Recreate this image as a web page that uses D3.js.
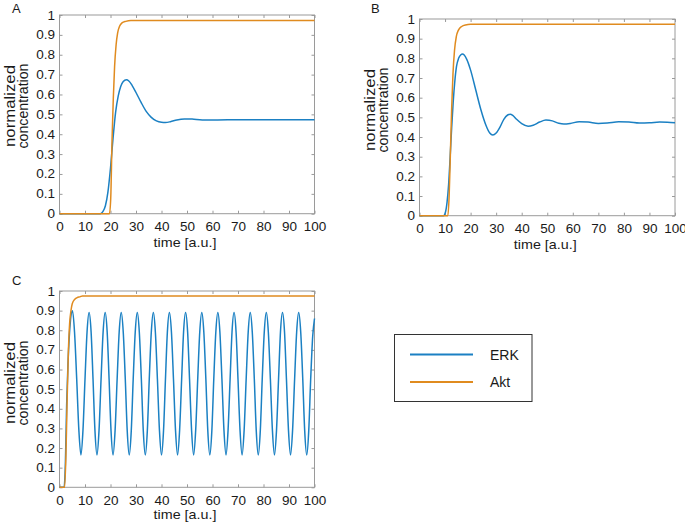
<!DOCTYPE html>
<html><head><meta charset="utf-8">
<script src="https://cdn.jsdelivr.net/npm/d3@7"></script>
<style>
body{margin:0;background:#fff}
svg{display:block}
text{font-family:"Liberation Sans",Arial,Helvetica,sans-serif;fill:#1a1a1a}
</style>
</head><body><svg id="c" width="685" height="526"></svg>
<script>
// ---------- data ----------
const xTicks = [0,10,20,30,40,50,60,70,80,90,100];
const yTicks = [0,0.1,0.2,0.3,0.4,0.5,0.6,0.7,0.8,0.9,1];
const yTickLabels = ["0","0.1","0.2","0.3","0.4","0.5","0.6","0.7","0.8","0.9","1"];
const seriesNames = ["ERK","Akt"];
const panelLabels = ["A","B","C"];
const xLabel = "time [a.u.]";
const yLabelLines = ["normalized","concentration"];

// Panel A
const tErkA = [0,16,17,18,19,20,21,22,23,24,25,26.2,27.2,28.5,30,32,34,36,38,40,41.5,43.5,46,49,52,56,62,70,100];
const erkA  = [0,0,0.01,0.04,0.11,0.23,0.38,0.51,0.59,0.64,0.665,0.674,0.668,0.645,0.61,0.56,0.515,0.485,0.467,0.46,0.459,0.463,0.472,0.477,0.476,0.472,0.472,0.473,0.473];
const tAktA = [0,19.6,20.1,20.6,21.1,21.6,22.2,22.8,23.6,24.5,26,28,100];
const aktA  = [0,0,0.08,0.37,0.58,0.74,0.85,0.91,0.945,0.96,0.968,0.972,0.972];

// Panel B
const tErkB = [0,9.4,10.2,10.8,11.4,12,12.6,13.2,13.8,14.5,15.3,16.2,16.8,17.5,18.5,20,22,24,26,27.5,28.7,30,31.5,33,34.5,35.5,36.5,38,40,42.5,44.5,47,49.5,52,54.5,56.5,59,62.5,66,70,73.5,78,82,86,90,94,97,100];
const erkB  = [0,0,0.02,0.07,0.16,0.3,0.45,0.58,0.68,0.76,0.8,0.818,0.822,0.817,0.795,0.74,0.64,0.54,0.46,0.42,0.41,0.42,0.45,0.49,0.512,0.516,0.51,0.49,0.468,0.455,0.46,0.476,0.486,0.482,0.47,0.466,0.469,0.478,0.476,0.469,0.471,0.477,0.476,0.471,0.472,0.476,0.475,0.472];
const tAktB = [0,11.1,11.6,12.1,12.6,13.1,13.7,14.4,15.3,16.5,18,20,100];
const aktB  = [0,0,0.1,0.32,0.55,0.72,0.84,0.91,0.945,0.962,0.97,0.973,0.973];

// Panel C
const tErkC = [0,1.8,2.3,2.8,3.3,3.8,4.3,4.7,5.1,
  5.9,6.75,7.6,8.4, 9.2,10.0,10.8,11.6, 12.4,13.15,13.9,14.7, 15.5,16.3,17.1,17.9,
  18.7,19.45,20.2,21.0, 21.8,22.6,23.4,24.2, 25.0,25.8,26.55,27.35, 28.15,28.9,29.7,30.5,
  31.3,32.1,32.85,33.65, 34.45,35.2,36.0,36.8, 37.6,38.4,39.2,40.0, 40.8,41.55,42.3,43.1,
  43.9,44.7,45.5,46.3, 47.1,47.9,48.65,49.45, 50.25,51.0,51.8,52.6, 53.4,54.2,55.0,55.8,
  56.6,57.4,58.15,58.95, 59.75,60.5,61.3,62.1, 62.9,63.7,64.5,65.3, 66.1,66.9,67.65,68.45,
  69.25,70.0,70.8,71.6, 72.4,73.2,74.0,74.8, 75.6,76.4,77.15,77.95, 78.75,79.5,80.3,81.1,
  81.9,82.7,83.5,84.3, 85.1,85.9,86.65,87.45, 88.25,89.0,89.8,90.6, 91.4,92.2,93.0,93.8,
  94.6,95.4,96.15,96.95, 97.75,98.5,99.3,100];
const erkC  = [0,0,0.12,0.42,0.62,0.76,0.85,0.89,0.9,
  0.79,0.55,0.29,0.165, 0.29,0.55,0.79,0.89, 0.79,0.55,0.29,0.165, 0.29,0.55,0.79,0.89,
  0.79,0.55,0.29,0.165, 0.29,0.55,0.79,0.89, 0.79,0.55,0.29,0.165, 0.29,0.55,0.79,0.89,
  0.79,0.55,0.29,0.165, 0.29,0.55,0.79,0.89, 0.79,0.55,0.29,0.165, 0.29,0.55,0.79,0.89,
  0.79,0.55,0.29,0.165, 0.29,0.55,0.79,0.89, 0.79,0.55,0.29,0.165, 0.29,0.55,0.79,0.89,
  0.79,0.55,0.29,0.165, 0.29,0.55,0.79,0.89, 0.79,0.55,0.29,0.165, 0.29,0.55,0.79,0.89,
  0.79,0.55,0.29,0.165, 0.29,0.55,0.79,0.89, 0.79,0.55,0.29,0.165, 0.29,0.55,0.79,0.89,
  0.79,0.55,0.29,0.165, 0.29,0.55,0.79,0.89, 0.79,0.55,0.29,0.165, 0.29,0.55,0.79,0.89,
  0.79,0.55,0.29,0.165, 0.29,0.55,0.77,0.86];
const tAktC = [0,2,2.5,3,3.5,4,4.5,5,6,7,8,9,100];
const aktC  = [0,0,0.15,0.45,0.7,0.84,0.9,0.935,0.958,0.967,0.97,0.975,0.975];

// ---------- layout ----------
const colors = {ERK:"#1b80c3", Akt:"#e08b1f"};
const panels = [
  {label:panelLabels[0], x0:59.5, y0:15, x1:314.5, y1:213.7, lab:[12,12.5], yl:[15,106], xlOff:33,
   series:[[tErkA,erkA],[tAktA,aktA]]},
  {label:panelLabels[1], x0:419.5, y0:19, x1:675, y1:215.7, lab:[371,12.5], yl:[375,110], xlOff:33,
   series:[[tErkB,erkB],[tAktB,aktB]]},
  {label:panelLabels[2], x0:59.5, y0:291, x1:314.5, y1:487.3, lab:[12,285], yl:[15,383], xlOff:31.5,
   series:[[tErkC,erkC],[tAktC,aktC]]}
];

const svg = d3.select("#c");
svg.append("rect").attr("width",685).attr("height",526).attr("fill","#fff");

const axisColor = "#9a9a9a";
function stretch(sel, f){
  sel.each(function(){
    const w = this.getComputedTextLength();
    d3.select(this).attr("textLength", w*f).attr("lengthAdjust","spacingAndGlyphs");
  });
}

panels.forEach(p=>{
  const g = svg.append("g");
  const x = d3.scaleLinear().domain([0,100]).range([p.x0,p.x1]);
  const y = d3.scaleLinear().domain([0,1]).range([p.y1,p.y0]);

  g.append("rect").attr("x",p.x0).attr("y",p.y0).attr("width",p.x1-p.x0).attr("height",p.y1-p.y0)
    .attr("fill","#fff").attr("stroke",axisColor).attr("stroke-width",1);

  const styleAxis = a => { a.select(".domain").remove(); a.selectAll("line").attr("stroke",axisColor); };

  const bx = g.append("g").attr("transform",`translate(0,${p.y1})`)
    .call(d3.axisBottom(x).tickValues(xTicks).tickSizeInner(-3).tickSizeOuter(0).tickPadding(8.5).tickFormat(d3.format("d")));
  styleAxis(bx);
  bx.selectAll("text").attr("font-size",12.5).attr("fill","#1a1a1a").call(stretch,1.08);

  const ly = g.append("g").attr("transform",`translate(${p.x0},0)`)
    .call(d3.axisLeft(y).tickValues(yTicks).tickSizeInner(-3).tickSizeOuter(0).tickPadding(4.5).tickFormat((d,i)=>yTickLabels[i]));
  styleAxis(ly);
  ly.selectAll("text").attr("font-size",12.5).attr("fill","#1a1a1a").call(stretch,1.08);

  const tx = g.append("g").attr("transform",`translate(0,${p.y0})`)
    .call(d3.axisTop(x).tickValues(xTicks).tickSizeInner(-3).tickSizeOuter(0).tickFormat(()=>""));
  styleAxis(tx);
  const ry = g.append("g").attr("transform",`translate(${p.x1},0)`)
    .call(d3.axisRight(y).tickValues(yTicks).tickSizeInner(-3).tickSizeOuter(0).tickFormat(()=>""));
  styleAxis(ry);

  const line = d3.line().x(d=>x(d[0])).y(d=>y(d[1])).curve(d3.curveMonotoneX);
  p.series.forEach((s,i)=>{
    const pts = s[0].map((t,k)=>[t,s[1][k]]);
    g.append("path").attr("d",line(pts)).attr("fill","none")
      .attr("stroke",colors[seriesNames[i]]).attr("stroke-width",1.5).attr("stroke-linejoin","round");
  });

  // panel label
  g.append("text").attr("x",p.lab[0]).attr("y",p.lab[1]).attr("font-size",13).text(p.label);

  // x label
  g.append("text").attr("x",(p.x0+p.x1)/2-2).attr("y",p.y1+p.xlOff).attr("text-anchor","middle")
    .attr("font-size",13.5).text(xLabel).call(stretch,1.06);

  // y label
  const yg = g.append("g").attr("transform",`translate(${p.yl[0]},${p.yl[1]}) rotate(-90)`);
  yg.append("text").attr("x",0).attr("y",0).attr("text-anchor","middle").attr("font-size",14)
    .attr("textLength",82).attr("lengthAdjust","spacingAndGlyphs").text(yLabelLines[0]);
  yg.append("text").attr("x",0).attr("y",13).attr("text-anchor","middle").attr("font-size",14)
    .attr("textLength",85).attr("lengthAdjust","spacingAndGlyphs").text(yLabelLines[1]);
});

// legend
const lg = svg.append("g");
lg.append("rect").attr("x",394.5).attr("y",334.5).attr("width",137.5).attr("height",67)
  .attr("fill","#fff").attr("stroke","#333").attr("stroke-width",1);
const legY = [354.5, 382];
seriesNames.forEach((n,i)=>{
  lg.append("line").attr("x1",410).attr("x2",473).attr("y1",legY[i]).attr("y2",legY[i])
    .attr("stroke",colors[n]).attr("stroke-width",2);
  lg.append("text").attr("x",490).attr("y",legY[i]+5).attr("font-size",14).text(n);
});
</script></body></html>
